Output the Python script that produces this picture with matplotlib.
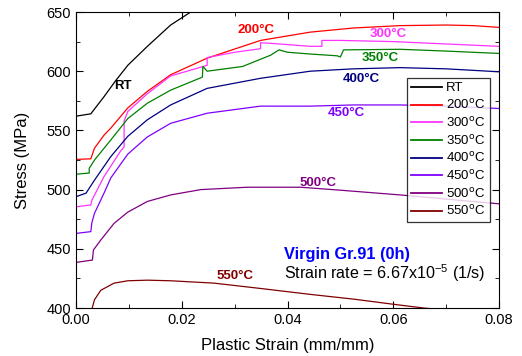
import matplotlib
matplotlib.use('Agg')
import matplotlib.pyplot as plt
from matplotlib.ticker import MultipleLocator

plt.rcParams['font.family'] = ['Liberation Sans', 'DejaVu Sans']

# RT
rt_x = [0, 0.0028, 0.0053, 0.0075, 0.0098, 0.0135, 0.0179, 0.0217, 0.025]
rt_y = [562, 564, 578.5, 592, 605, 621, 639, 650, 660]

# 200C
t200_x = [0, 0.0028, 0.0035, 0.0053, 0.0066, 0.0098, 0.0135, 0.0179, 0.0248, 0.0349,
          0.0443, 0.0525, 0.0613, 0.070, 0.0751, 0.080]
t200_y = [525.5, 526, 535, 546, 552, 569, 583, 597, 611, 626,
          633, 636.5, 638.5, 639, 638.5, 637]

# 300C
t300_x = [0, 0.0028, 0.0030, 0.0053, 0.0085, 0.0091, 0.0091, 0.0098, 0.0135, 0.0179,
          0.0210, 0.0248, 0.0248, 0.030, 0.0349, 0.0349, 0.037, 0.0443, 0.0465, 0.0465,
          0.050, 0.060, 0.070, 0.080]
t300_y = [485.5, 487, 491, 511, 533, 536, 558, 566, 581, 596,
          600, 605, 611.5, 616, 619, 624, 623.5, 621, 621, 626,
          626, 625, 623, 621]

# 350C
t350_x = [0, 0.0025, 0.0025, 0.0035, 0.0066, 0.0098, 0.0135, 0.0179, 0.0239, 0.0240,
          0.0248, 0.0315, 0.0368, 0.0384, 0.040, 0.0443, 0.0494, 0.0500, 0.0506, 0.0613,
          0.070, 0.080]
t350_y = [513, 514, 518, 525, 542, 560, 573, 584, 595, 604,
          600, 604, 613.5, 618, 616, 614.5, 613, 612, 618, 618.5,
          617, 615]

# 400C
t400_x = [0, 0.0019, 0.0035, 0.0066, 0.0098, 0.0135, 0.0179, 0.0248, 0.0349, 0.0443,
          0.0525, 0.0613, 0.070, 0.080]
t400_y = [494, 497, 508, 528, 545, 559, 571.5, 585.5, 594, 600,
          602, 603, 602, 599.5]

# 450C
t450_x = [0, 0.0028, 0.0030, 0.0035, 0.0053, 0.0066, 0.0098, 0.0135, 0.0179, 0.0248,
          0.0349, 0.0443, 0.0525, 0.0613, 0.070, 0.080]
t450_y = [463, 464.5, 472, 480, 497, 510, 530, 544.5, 556, 564.5,
          570.5, 570.5, 571.5, 571.5, 570.5, 568.5]

# 500C
t500_x = [0, 0.0031, 0.0033, 0.0047, 0.0072, 0.0098, 0.0135, 0.0179, 0.0236, 0.0324,
          0.0425, 0.050, 0.0613, 0.070, 0.080]
t500_y = [438.5, 440.5, 449, 457.5, 471.5, 481, 490, 495.5, 500, 502,
          502, 499.5, 495.5, 492, 488]

# 550C
t550_x = [0.0030, 0.0031, 0.0035, 0.0047, 0.0072, 0.0098, 0.0135, 0.0179, 0.0261, 0.0349,
          0.0443, 0.0525, 0.0594, 0.0657, 0.080]
t550_y = [398, 400.5, 407, 415, 421, 423, 423.5, 423, 421, 416.5,
          411.5, 407.5, 403.5, 400, 394]

series = [
    ('RT', rt_x, rt_y, '#000000'),
    ('200$^{\\rm o}$C', t200_x, t200_y, '#ff0000'),
    ('300$^{\\rm o}$C', t300_x, t300_y, '#ff33ff'),
    ('350$^{\\rm o}$C', t350_x, t350_y, '#008000'),
    ('400$^{\\rm o}$C', t400_x, t400_y, '#000080'),
    ('450$^{\\rm o}$C', t450_x, t450_y, '#8000ff'),
    ('500$^{\\rm o}$C', t500_x, t500_y, '#800080'),
    ('550$^{\\rm o}$C', t550_x, t550_y, '#800000'),
]

# curve labels: text, x, y, colour
labels = [
    ('RT', 0.0089, 587.5, '#000000'),
    ('200°C', 0.0340, 634.8, '#ff0000'),
    ('300°C', 0.0590, 631.4, '#ff33ff'),
    ('350°C', 0.0575, 610.9, '#008000'),
    ('400°C', 0.0540, 593.7, '#000080'),
    ('450°C', 0.0511, 564.4, '#8000ff'),
    ('500°C', 0.0458, 505.8, '#800080'),
    ('550°C', 0.0300, 427.3, '#800000'),
]

fig = plt.figure(figsize=(5.22, 3.56), dpi=100)
ax = fig.add_axes([76 / 522, 1 - 308 / 356, 423 / 522, 296 / 356])

for name, x, y, c in series:
    ax.plot(x, y, color=c, lw=0.9, label=name)

for txt, x, y, c in labels:
    ax.text(x, y, txt, color=c, fontsize=9.5, fontweight='bold', ha='center', va='center')

ax.text(0.0394, 444.8, 'Virgin Gr.91 (0h)', color='#0000ff', fontsize=11.8,
        fontweight='bold', ha='left', va='center')
ax.text(0.0394, 429.3, 'Strain rate = 6.67x10$^{\\mathregular{-5}}$ (1/s)', color='black',
        fontsize=11.6, ha='left', va='center')

ax.set_xlim(0, 0.08)
ax.set_ylim(400, 650)
ax.xaxis.set_major_locator(MultipleLocator(0.02))
ax.xaxis.set_minor_locator(MultipleLocator(0.01))
ax.yaxis.set_major_locator(MultipleLocator(50))
ax.yaxis.set_minor_locator(MultipleLocator(25))
ax.xaxis.set_major_formatter(plt.FormatStrFormatter('%.2f'))
ax.tick_params(which='both', direction='in', top=True, right=True, labelsize=10.5)
ax.tick_params(which='major', length=5)
ax.tick_params(which='minor', length=3)

ax.set_xlabel('Plastic Strain (mm/mm)', fontsize=12, labelpad=8)
ax.set_ylabel('Stress (MPa)', fontsize=12, labelpad=12)

leg = ax.legend(loc='upper left', bbox_to_anchor=(0.782, 0.776), borderaxespad=0,
                fontsize=9.5, frameon=True, fancybox=False, edgecolor='black',
                handlelength=2.4, labelspacing=0.28, handletextpad=0.3, borderpad=0.3)
leg.get_frame().set_linewidth(0.9)
for line in leg.get_lines():
    line.set_linewidth(1.3)

fig.savefig('out.png', dpi=100)
